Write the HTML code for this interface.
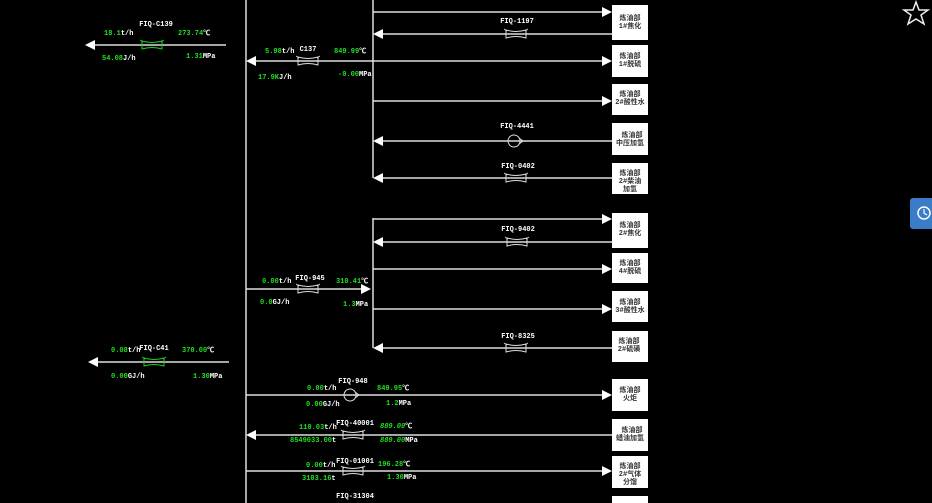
<!DOCTYPE html>
<html><head><meta charset="utf-8"><style>
html,body{margin:0;padding:0;background:#000;width:932px;height:503px;overflow:hidden}
svg{display:block}
text{font-family:"Liberation Mono","Noto Sans CJK SC",monospace;font-size:7px;font-weight:bold}
.w{fill:#fff}.g{fill:#1fe01f}
.bx{font-family:"Liberation Sans","Noto Sans CJK SC",sans-serif;font-size:7.5px;font-weight:normal;fill:#333}
</style></head><body>
<svg width="932" height="503" viewBox="0 0 932 503">
<defs>
<g id="v"><path d="M-10,-4 Q0,-1 10,-4 L10,4 Q0,1 -10,4 Z" fill="none" stroke="#ddd" stroke-width="1"/><path d="M-12,-5 L-9,-3 M12,-5 L9,-3" stroke="#ddd" stroke-width="0.8"/></g>
<g id="vg"><path d="M-10,-4 Q0,-1 10,-4 L10,4 Q0,1 -10,4 Z" fill="none" stroke="#1fd01f" stroke-width="1"/><path d="M-12,-5 L-9,-3 M12,-5 L9,-3" stroke="#1fd01f" stroke-width="0.8"/></g>
<g id="m"><circle r="6" fill="none" stroke="#ddd" stroke-width="1"/><path d="M5,-3 L9,0 L5,3" fill="none" stroke="#ddd" stroke-width="1"/></g>
<path id="ar" d="M0,0 L-10,-5 L-10,5 Z" fill="#fff"/>
<path id="al" d="M0,0 L10,-5 L10,5 Z" fill="#fff"/>
</defs>
<g stroke="#ddd" stroke-width="1.5" fill="none">
<line x1="246" y1="0" x2="246" y2="503"/>
<line x1="373" y1="0" x2="373" y2="178"/>
<line x1="373" y1="218" x2="373" y2="348"/>
<line x1="373" y1="12" x2="603" y2="12"/>
<line x1="383" y1="34" x2="612" y2="34"/>
<line x1="256" y1="61" x2="603" y2="61"/>
<line x1="373" y1="101" x2="603" y2="101"/>
<line x1="383" y1="141" x2="612" y2="141"/>
<line x1="383" y1="178" x2="612" y2="178"/>
<line x1="373" y1="219" x2="603" y2="219"/>
<line x1="383" y1="242" x2="612" y2="242"/>
<line x1="373" y1="269" x2="603" y2="269"/>
<line x1="246" y1="289" x2="362" y2="289"/>
<line x1="373" y1="309" x2="603" y2="309"/>
<line x1="383" y1="348" x2="612" y2="348"/>
<line x1="246" y1="395" x2="603" y2="395"/>
<line x1="256" y1="435" x2="612" y2="435"/>
<line x1="246" y1="471" x2="603" y2="471"/>
<line x1="95" y1="45" x2="226" y2="45"/>
<line x1="98" y1="362" x2="229" y2="362"/>
</g>
<use href="#ar" x="612" y="12"/><use href="#al" x="373" y="34"/><use href="#ar" x="612" y="61"/><use href="#al" x="246" y="61"/>
<use href="#ar" x="612" y="101"/><use href="#al" x="373" y="141"/><use href="#al" x="373" y="178"/>
<use href="#ar" x="612" y="219"/><use href="#al" x="373" y="242"/><use href="#ar" x="612" y="269"/><use href="#ar" x="371" y="289"/>
<use href="#ar" x="612" y="309"/><use href="#al" x="373" y="348"/><use href="#ar" x="612" y="395"/><use href="#al" x="246" y="435"/><use href="#ar" x="612" y="471"/>
<use href="#al" x="85" y="45"/><use href="#al" x="88" y="362"/>
<use href="#v" x="516" y="34"/><use href="#v" x="308" y="61"/><use href="#m" x="514" y="141"/><use href="#v" x="516" y="178"/>
<use href="#v" x="517" y="242"/><use href="#v" x="308" y="289"/><use href="#v" x="516" y="348"/>
<use href="#m" x="350" y="395"/><use href="#v" x="353" y="435"/><use href="#v" x="353" y="471"/>
<use href="#vg" x="152" y="45"/><use href="#vg" x="154" y="362"/>
<g fill="#fff">
<rect x="612" y="5" width="36" height="35"/><rect x="612" y="45" width="36" height="32"/><rect x="612" y="84" width="36" height="31"/>
<rect x="612" y="123" width="36" height="32"/><rect x="612" y="163" width="36" height="31"/><rect x="612" y="213" width="36" height="35"/>
<rect x="612" y="253" width="36" height="30"/><rect x="612" y="291" width="36" height="31"/><rect x="612" y="331" width="36" height="31"/>
<rect x="612" y="379" width="36" height="32"/><rect x="612" y="419" width="36" height="32"/><rect x="612" y="456" width="36" height="32"/><rect x="612" y="496" width="36" height="10"/>
</g>
<g class="bx" text-anchor="middle">
<text x="630" y="20">炼油部</text><text x="630" y="28">1#焦化</text>
<text x="630" y="58">炼油部</text><text x="630" y="66">1#脱硫</text>
<text x="630" y="96">炼油部</text><text x="630" y="104">2#酸性水</text>
<text x="632" y="137">炼油部</text><text x="630" y="145">中压加氢</text>
<text x="630" y="175">炼油部</text><text x="630" y="183">2#柴油</text><text x="630" y="191">加氢</text>
<text x="630" y="227">炼油部</text><text x="630" y="235">2#焦化</text>
<text x="630" y="265">炼油部</text><text x="630" y="273">4#脱硫</text>
<text x="630" y="304">炼油部</text><text x="630" y="312">3#酸性水</text>
<text x="629" y="343">炼油部</text><text x="629" y="351">2#硫磺</text>
<text x="630" y="392">炼油部</text><text x="630" y="400">火炬</text>
<text x="632" y="432">炼油部</text><text x="630" y="440">蜡油加氢</text>
<text x="630" y="468">炼油部</text><text x="630" y="476">2#气体</text><text x="630" y="484">分馏</text>
</g>
<g class="w" text-anchor="middle">
<text x="517" y="23">FIQ-1197</text><text x="308" y="51">C137</text><text x="517" y="128">FIQ-4441</text>
<text x="518" y="168">FIQ-0402</text><text x="518" y="231">FIQ-9402</text><text x="310" y="280">FIQ-945</text>
<text x="518" y="338">FIQ-8325</text><text x="353" y="383">FIQ-948</text><text x="355" y="425">FIQ-40001</text>
<text x="355" y="463">FIQ-01001</text><text x="355" y="498">FIQ-31304</text>
<text x="156" y="26">FIQ-C139</text><text x="154" y="350">FIQ-C41</text>
</g>
<g>
<text x="104" y="35"><tspan class="g">18.1</tspan><tspan class="w">t/h</tspan></text>
<text x="178" y="35"><tspan class="g">273.74</tspan><tspan class="w">℃</tspan></text>
<text x="102" y="60"><tspan class="g">54.08</tspan><tspan class="w">J/h</tspan></text>
<text x="186" y="58"><tspan class="g">1.31</tspan><tspan class="w">MPa</tspan></text>
<text x="265" y="53"><tspan class="g">5.98</tspan><tspan class="w">t/h</tspan></text>
<text x="334" y="53"><tspan class="g">849.99</tspan><tspan class="w">℃</tspan></text>
<text x="258" y="79"><tspan class="g">17.9K</tspan><tspan class="w">J/h</tspan></text>
<text x="338" y="76"><tspan class="g">-0.00</tspan><tspan class="w">MPa</tspan></text>
<text x="262" y="283"><tspan class="g">0.00</tspan><tspan class="w">t/h</tspan></text>
<text x="336" y="283"><tspan class="g">310.41</tspan><tspan class="w">℃</tspan></text>
<text x="260" y="304"><tspan class="g">0.0</tspan><tspan class="w">GJ/h</tspan></text>
<text x="343" y="306"><tspan class="g">1.3</tspan><tspan class="w">MPa</tspan></text>
<text x="111" y="352"><tspan class="g">0.08</tspan><tspan class="w">t/h</tspan></text>
<text x="182" y="352"><tspan class="g">370.00</tspan><tspan class="w">℃</tspan></text>
<text x="111" y="378"><tspan class="g">0.00</tspan><tspan class="w">GJ/h</tspan></text>
<text x="193" y="378"><tspan class="g">1.30</tspan><tspan class="w">MPa</tspan></text>
<text x="307" y="390"><tspan class="g">0.00</tspan><tspan class="w">t/h</tspan></text>
<text x="377" y="390"><tspan class="g">849.95</tspan><tspan class="w">℃</tspan></text>
<text x="306" y="406"><tspan class="g">0.00</tspan><tspan class="w">GJ/h</tspan></text>
<text x="386" y="405"><tspan class="g">1.2</tspan><tspan class="w">MPa</tspan></text>
<text x="299" y="429"><tspan class="g">110.03</tspan><tspan class="w">t/h</tspan></text>
<text x="380" y="428"><tspan class="g" font-style="italic">889.00</tspan><tspan class="w">℃</tspan></text>
<text x="290" y="442"><tspan class="g">8549033.00</tspan><tspan class="w">t</tspan></text>
<text x="380" y="442"><tspan class="g" font-style="italic">889.00</tspan><tspan class="w">MPa</tspan></text>
<text x="306" y="467"><tspan class="g">0.00</tspan><tspan class="w">t/h</tspan></text>
<text x="378" y="466"><tspan class="g">196.28</tspan><tspan class="w">℃</tspan></text>
<text x="302" y="480"><tspan class="g">3103.16</tspan><tspan class="w">t</tspan></text>
<text x="387" y="479"><tspan class="g">1.30</tspan><tspan class="w">MPa</tspan></text>
</g>
<path d="M916,2 L919,10 L928,10 L921,15 L924,24 L916,19 L908,24 L911,15 L904,10 L913,10 Z" fill="none" stroke="#eee" stroke-width="1.5"/>
<rect x="910" y="198" width="26" height="31" rx="3" fill="#3b7cc9"/>
<circle cx="924" cy="213" r="6" fill="none" stroke="#fff" stroke-width="1.5"/>
<path d="M924,209 L924,213 L927,215" fill="none" stroke="#fff" stroke-width="1.2"/>
</svg>
</body></html>
